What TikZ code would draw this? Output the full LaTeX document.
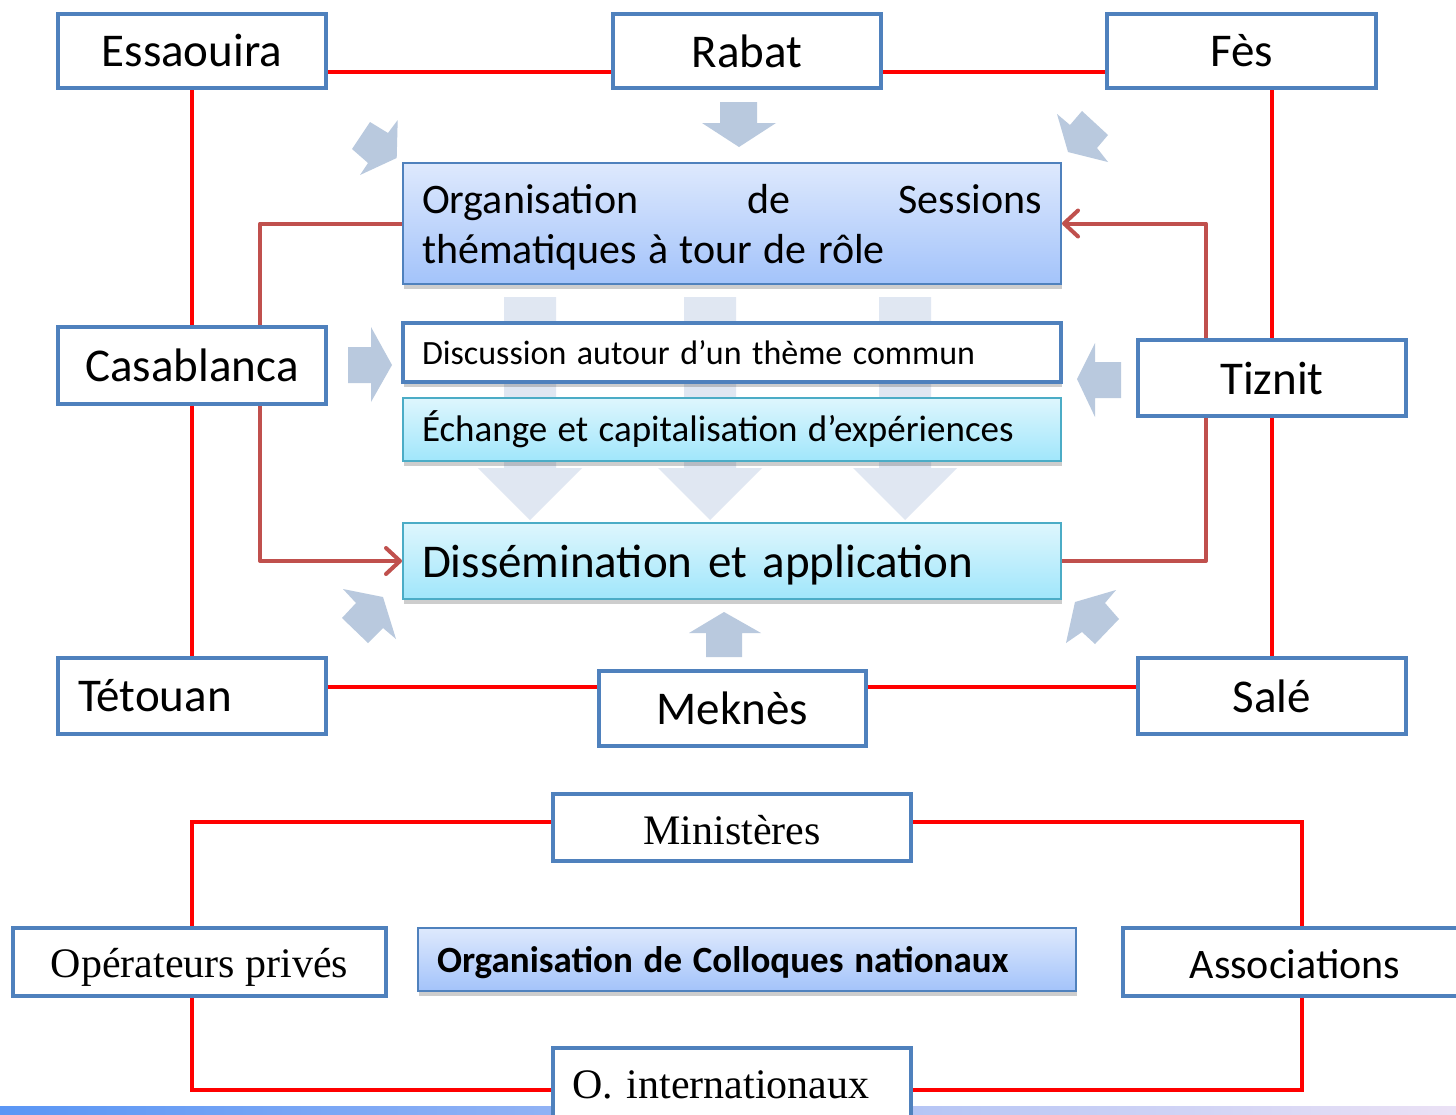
\documentclass[tikz,border=0pt]{standalone}
\usepackage{fontspec}
\setmainfont{Liberation Serif}
\newfontfamily\calibri{Carlito}
\usetikzlibrary{arrows.meta,shadows}
\definecolor{boxblue}{RGB}{79,129,189}
\definecolor{cyanb}{RGB}{75,172,198}
\definecolor{brownr}{RGB}{192,80,77}
\definecolor{arrowg}{RGB}{185,201,222}
\definecolor{colg}{RGB}{224,231,242}
\definecolor{orgtop}{RGB}{222,233,253}
\definecolor{orgbot}{RGB}{163,195,250}
\definecolor{cytop}{RGB}{222,246,253}
\definecolor{cybot}{RGB}{160,230,251}
\definecolor{barl}{RGB}{90,150,245}
\definecolor{barm}{RGB}{160,200,240}
\definecolor{barr}{RGB}{235,225,245}
\newcommand\shiftdown[2]{\raisebox{-#1}[\height][\depth]{#2}}
\newcommand\setsp[1]{\spaceskip=#1em\relax}
\pgfdeclarelayer{back}
\pgfdeclarelayer{bg}
\pgfsetlayers{back,bg,main}
\begin{document}
\begin{tikzpicture}[x=1pt,y=-1pt,
  city/.style={draw=boxblue,line width=4pt,fill=white,inner sep=0pt,rectangle,
    font=\calibri\fontsize{47}{56}\selectfont},
  serifbox/.style={draw=boxblue,line width=4pt,fill=white,inner sep=0pt,rectangle,
    font=\fontsize{42}{50}\selectfont},
  softshadow/.style={drop shadow={shadow xshift=1pt,shadow yshift=-5pt,opacity=0.28,fill=black!70}},
  orgbox/.style={draw=boxblue,line width=2pt,top color=orgtop,bottom color=orgbot,
    inner sep=0pt,rectangle,softshadow},
  cybox/.style={draw=cyanb,line width=2pt,top color=cytop,bottom color=cybot,
    inner sep=0pt,rectangle,softshadow},
  redl/.style={draw=red,line width=4pt},
  brownl/.style={draw=brownr,line width=4pt,line cap=round,line join=round,
    -{Straight Barb[length=14pt,width=26pt,round]}},
  blockarrow/.style={fill=arrowg,draw=none},
  colarrow/.style={fill=colg,draw=none}]
\useasboundingbox (0,0) rectangle (1456,1114);
\begin{pgfonlayer}{back}
\fill[white] (0,0) rectangle (1456,1114);
\end{pgfonlayer}
\clip (0,0) rectangle (1456,1114);

% bottom bar
\shade[left color=barl,middle color=barm,right color=barr] (0,1106) rectangle (1456,1114);

% column arrows behind the central boxes
\foreach \cx in {530,710,905}{
  \path[colarrow] (\cx-26,297) -- (\cx+26,297) -- (\cx+26,468) -- (\cx+52,468)
     -- (\cx,520) -- (\cx-52,468) -- (\cx-26,468) -- cycle;
}

% small block arrows
\path[blockarrow] (397.7,120) -- (388,133) -- (370,122) -- (352,149) -- (368,163) -- (360,175) -- (396.7,158) -- cycle;
\path[blockarrow] (1057,114) -- (1070,125) -- (1082,111) -- (1108,135) -- (1097,148) -- (1108,162) -- (1068,152) -- cycle;
\path[blockarrow] (343,589) -- (383,597) -- (396,639) -- (383,628) -- (368,643) -- (342,618) -- (356,603) -- cycle;
\path[blockarrow] (1116,590) -- (1105,603) -- (1119,619) -- (1095,644) -- (1082,632) -- (1066,643) -- (1075,602) -- cycle;
\path[blockarrow] (720,102) -- (757,102) -- (757,123) -- (776,123) -- (739,147) -- (702,123) -- (720,123) -- cycle;
\path[blockarrow] (348,347) -- (371,347) -- (371,327) -- (392,365) -- (371,402) -- (371,383) -- (348,383) -- cycle;
\path[blockarrow] (1121,362) -- (1095,362) -- (1095,343) -- (1077,379) -- (1095,417) -- (1095,398) -- (1121,398) -- cycle;
\path[blockarrow] (706,657) -- (706,633) -- (689,633) -- (724,612) -- (761,633) -- (742,633) -- (742,657) -- cycle;

% city boxes
\node[city,minimum width=268pt,minimum height=74pt] (ess) at (192,51) {Essaouira};
\node[city,minimum width=268pt,minimum height=74pt] (rab) at (747,51) {Rabat};
\node[city,minimum width=269pt,minimum height=74pt] (fes) at (1241.5,51) {Fès};
\node[city,minimum width=268pt,minimum height=77pt] (casa) at (192,365.5) {Casablanca};
\node[city,minimum width=268pt,minimum height=76pt] (tiz) at (1272,378) {Tiznit};
\node[city,minimum width=268pt,minimum height=76pt,text width=228pt,align=left] (tet) at (192,696) {Tétouan};
\node[city,minimum width=267pt,minimum height=75pt] (mek) at (732.5,708.5) {Meknès};
\node[city,minimum width=268pt,minimum height=76pt] (sale) at (1272,696) {Salé};

% central boxes
\node[orgbox,minimum width=658pt,minimum height=121pt,
  font=\calibri\fontsize{42}{50}\selectfont] (org) at (732,223.5)
  {\shiftdown{4pt}{\parbox{620pt}{\setsp{0.27}%
   \leavevmode\hbox to 620pt{Organisation\hfill de\hfill Sessions}\\thématiques à tour de rôle}}};
\node[draw=boxblue,line width=4pt,fill=white,inner sep=0pt,rectangle,softshadow,
  minimum width=658pt,minimum height=59pt,text width=620pt,align=left,
  font=\calibri\fontsize{34}{40}\selectfont] (disc) at (732,352.5)
  {\setsp{0.31}Discussion autour d’un thème commun};
\node[cybox,minimum width=658pt,minimum height=63pt,text width=620pt,align=left,
  font=\calibri\fontsize{37}{44}\selectfont] (ech) at (732,429.5)
  {\setsp{0.28}Échange et capitalisation d’expériences};
\node[cybox,minimum width=658pt,minimum height=76pt,text width=620pt,align=left,
  font=\calibri\fontsize{47}{56}\selectfont] (diss) at (732,561)
  {\shiftdown{4pt}{Dissémination et application}};

% bottom section
\node[serifbox,minimum width=358pt,minimum height=67pt] (min) at (732,827.5) {\shiftdown{3pt}{Ministères}};
\node[serifbox,minimum width=373pt,minimum height=68pt] (ope) at (199.5,962) {\shiftdown{5pt}{Opérateurs privés}};
\node[orgbox,minimum width=658pt,minimum height=63pt,text width=620pt,align=left,
  font=\calibri\bfseries\fontsize{37}{44}\selectfont] (col) at (747,959.5)
  {\setsp{0.29}\shiftdown{3pt}{Organisation de Colloques nationaux}};
\node[serifbox,minimum width=344pt,minimum height=68pt,
  font=\calibri\fontsize{42}{50}\selectfont] (ass) at (1295,962) {\shiftdown{2pt}{Associations}};
\node[serifbox,minimum width=358pt,minimum height=74pt,text width=320pt,align=left] (oint) at (732,1085) {O. internationaux};

% connectors
\coordinate (yt) at (0,72);
\coordinate (yb) at (0,687);
\coordinate (xl) at (260,0);
\coordinate (xr) at (1206,0);
\coordinate (ym) at (0,822);
\coordinate (yo) at (0,1090);
\coordinate (xL) at (192,0);
\coordinate (xR) at (1302,0);
\begin{pgfonlayer}{bg}
\draw[redl] (ess.east |- yt) -- (rab.west |- yt);
\draw[redl] (rab.east |- yt) -- (fes.west |- yt);
\draw[redl] (ess.south) -- (casa.north);
\draw[redl] (casa.south) -- (tet.north);
\draw[redl] (fes.south -| tiz.north) -- (tiz.north);
\draw[redl] (tiz.south) -- (sale.north);
\draw[redl] (tet.east |- yb) -- (mek.west |- yb);
\draw[redl] (mek.east |- yb) -- (sale.west |- yb);
\draw[brownl] (org.west) -- (org.west -| xl) |- (diss.west);
\draw[brownl] (diss.east) -- (diss.east -| xr) |- (org.east);
\draw[redl] (min.west |- ym) -| (ope.north -| xL);
\draw[redl] (min.east |- ym) -| (ass.north -| xR);
\draw[redl] (ope.south -| xL) |- (oint.west |- yo);
\draw[redl] (ass.south -| xR) |- (oint.east |- yo);
\end{pgfonlayer}
\end{tikzpicture}
\end{document}
